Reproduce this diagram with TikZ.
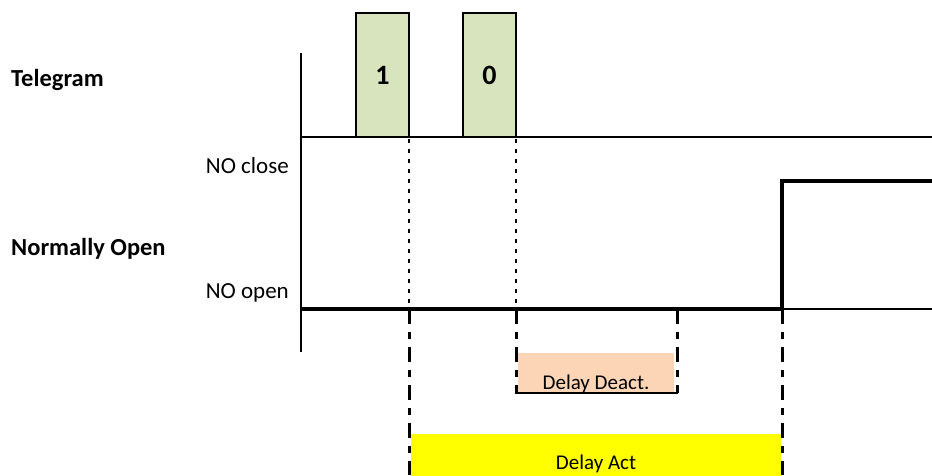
\documentclass[tikz,border=0pt]{standalone}
\usepackage{fontspec}
\setmainfont{Carlito}
\definecolor{tgreen}{HTML}{D7E4BD}
\definecolor{peach}{HTML}{FBD5B5}
\definecolor{dyellow}{HTML}{FFFF00}
\begin{document}
\begin{tikzpicture}[x=1pt,y=-1pt,
  lbl/.style={font=\fontsize{23}{27}\selectfont, inner sep=0pt},
  slbl/.style={font=\fontsize{21}{25}\selectfont, inner sep=0pt},
  blbl/.style={font=\fontsize{24.5}{28}\selectfont\bfseries, inner sep=0pt},
  tbox/.style={draw=black, line width=2pt, fill=tgreen, minimum width=53pt, minimum height=124pt, inner sep=0pt, font=\fontsize{28}{32}\selectfont\bfseries},
  axisline/.style={line width=1.8pt},
  sigthick/.style={line width=3.2pt},
  sigthin/.style={line width=1.6pt},
  dotline/.style={line width=2.5pt, dash pattern=on 4pt off 6pt},
  dashdotline/.style={line width=3pt, dash pattern=on 15pt off 8pt on 7pt off 8pt}
]
\useasboundingbox (0,0) rectangle (932,475);

% filled delay boxes
\node[fill=peach, minimum width=156pt, minimum height=40pt, inner sep=0pt] (dd) at (596,373) {};
\node[fill=dyellow, minimum width=370pt, minimum height=42pt, inner sep=0pt] (da) at (596,455) {};
\node[slbl, anchor=base] (ddt) at (596,389) {Delay Deact.};
\node[slbl, anchor=base] (dat) at (596,469) {Delay Act};

% telegram boxes
\node[tbox] (b1) at (382.5,75) {1};
\node[tbox] (b0) at (489.5,75) {0};

% labels
\node[blbl, anchor=base west] (tel) at (11,86) {Telegram};
\node[blbl, anchor=base west] (nop) at (11,255) {Normally Open};
\node[lbl, anchor=base east] (noc) at (289,173) {NO close};
\node[lbl, anchor=base east] (noo) at (289,298) {NO open};

% coordinates
\coordinate (axT) at (301,53);
\coordinate (axB) at (301,352);
\coordinate (telR) at (932,137);
\coordinate (telL) at (301,137);
\coordinate (sL) at (301,309);
\coordinate (sStep) at (782,309);
\coordinate (sR) at (932,309);
\coordinate (sUp) at (782,181);
\coordinate (sUpR) at (932,181);
\coordinate (d1T) at (409,139);
\coordinate (d1B) at (409,309);
\coordinate (d2T) at (516,139);
\coordinate (d2B) at (516,309);
\coordinate (v1B) at (409,475);
\coordinate (v2B) at (516,393);
\coordinate (v3T) at (677,309);
\coordinate (v3B) at (677,393);
\coordinate (v4B) at (782,475);
\coordinate (ddL) at (515,393);
\coordinate (ddR) at (678,393);

% axes
\draw[axisline] (axT) -- (axB);
\draw[axisline] (telL) -- (telR);

% dotted guides
\draw[dotline] (d1T) -- (d1B);
\draw[dotline] (d2T) -- (d2B);

% dash-dot guides
\draw[dashdotline] (d1B) -- (v1B);
\draw[dashdotline] (d2B) -- (v2B);
\draw[dashdotline] (v3T) -- (v3B);
\draw[dashdotline] (sStep) -- (v4B);
\draw[line width=2pt] (ddL) -- (ddR);

% signal
\draw[sigthick] (sL) -- (sStep);
\draw[sigthin] (sStep) -- (sR);
\draw[sigthick, line join=miter] (sStep) -- (sUp) -- (sUpR);
\end{tikzpicture}
\end{document}
